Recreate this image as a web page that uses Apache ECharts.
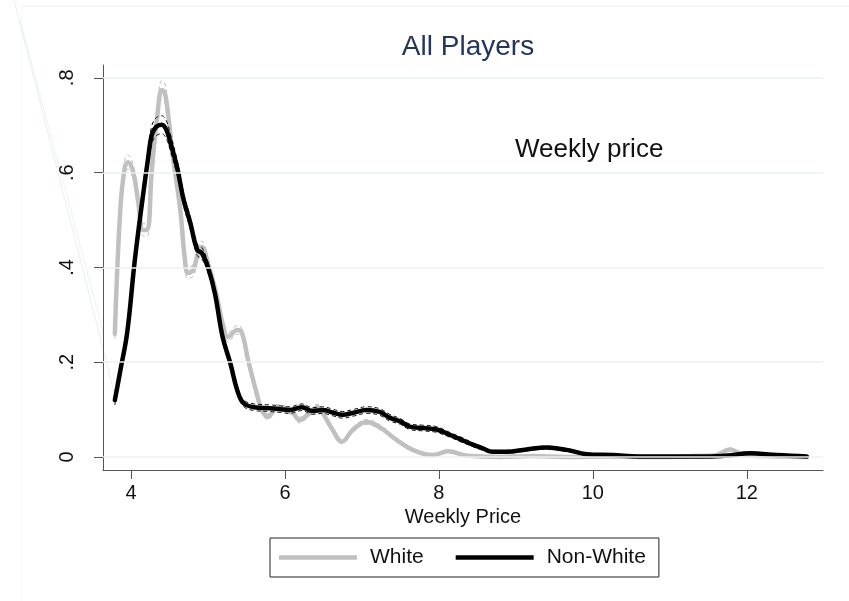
<!DOCTYPE html>
<html>
<head>
<meta charset="utf-8">
<script src="https://cdn.jsdelivr.net/npm/echarts@6/dist/echarts.min.js"></script>
<style>html,body{margin:0;padding:0;background:#fff}#c{width:849px;height:601px}</style>
</head>
<body>
<div id="c"></div>
<script>
// ---- data ----
const xTicks = [4, 6, 8, 10, 12];
const yTicks = [0, 0.2, 0.4, 0.6, 0.8];
const yTickLabels = ['0', '.2', '.4', '.6', '.8'];
const seriesNames = ['White', 'Non-White'];

const whiteX = [3.79,3.86,3.92,3.96,4.03,4.09,4.16,4.21,4.27,4.34,4.40,4.44,4.49,4.55,4.64,4.70,4.74,4.81,4.87,4.92,5.00,5.10,5.20,5.26,5.38,5.44,5.52,5.61,5.70,5.78,5.90,6.10,6.19,6.32,6.42,6.49,6.62,6.74,6.88,7.06,7.23,7.45,7.66,7.92,8.12,8.33,8.55,8.79,9.22,9.66,10.2,10.8,11.3,11.6,11.78,11.95,12.2,12.5,12.78];
const whiteY = [0.26,0.52,0.612,0.622,0.600,0.542,0.479,0.479,0.605,0.717,0.774,0.768,0.711,0.627,0.521,0.416,0.388,0.395,0.430,0.443,0.409,0.350,0.275,0.253,0.268,0.262,0.205,0.148,0.099,0.085,0.105,0.093,0.078,0.093,0.105,0.093,0.057,0.032,0.057,0.074,0.063,0.036,0.015,0.004,0.012,0.004,0.001,0.000,0.002,0.000,0.001,0.000,0.002,0.004,0.016,0.005,0.002,0.001,0.000];
const whiteHi = [0.270,0.534,0.627,0.637,0.615,0.556,0.492,0.492,0.621,0.736,0.794,0.788,0.730,0.644,0.536,0.429,0.400,0.407,0.442,0.455,0.420,0.360,0.284,0.262,0.277,0.271,0.213,0.155,0.105,0.091,0.111,0.099,0.084,0.099,0.111,0.099,0.062,0.036,0.062,0.079,0.068,0.040,0.018,0.006,0.014,0.006,0.002,0.001,0.003,0.001,0.002,0.001,0.003,0.006,0.019,0.007,0.003,0.002,0.001];
const whiteLo = [0.250,0.506,0.597,0.607,0.585,0.528,0.466,0.466,0.589,0.698,0.754,0.748,0.692,0.610,0.506,0.403,0.376,0.383,0.418,0.431,0.398,0.340,0.266,0.244,0.259,0.253,0.197,0.141,0.093,0.079,0.099,0.087,0.072,0.087,0.099,0.087,0.052,0.028,0.052,0.069,0.058,0.032,0.012,0.002,0.010,0.002,0.000,0.000,0.001,0.000,0.000,0.000,0.001,0.002,0.013,0.003,0.001,0.000,0.000];

const nonWhiteX = [3.79,3.87,3.95,4.05,4.16,4.22,4.27,4.33,4.40,4.46,4.51,4.60,4.68,4.77,4.86,4.92,5.00,5.09,5.19,5.29,5.38,5.46,5.60,5.80,5.94,6.06,6.22,6.36,6.49,6.62,6.75,6.88,7.06,7.23,7.36,7.50,7.62,7.80,7.97,8.14,8.30,8.44,8.57,8.70,8.88,9.14,9.40,9.66,9.92,10.26,10.6,11.0,11.48,11.75,12.04,12.39,12.78];
const nonWhiteY = [0.120,0.19,0.262,0.416,0.557,0.628,0.680,0.697,0.701,0.690,0.664,0.610,0.545,0.494,0.437,0.430,0.400,0.345,0.253,0.198,0.141,0.114,0.105,0.103,0.101,0.099,0.105,0.097,0.099,0.094,0.089,0.093,0.099,0.095,0.083,0.075,0.064,0.061,0.058,0.047,0.036,0.026,0.018,0.011,0.011,0.016,0.020,0.015,0.006,0.004,0.001,0.001,0.001,0.003,0.008,0.004,0.001];
const nonWhiteHi = [0.130,0.202,0.276,0.432,0.575,0.646,0.699,0.716,0.720,0.709,0.682,0.626,0.559,0.507,0.449,0.442,0.411,0.355,0.262,0.206,0.148,0.121,0.112,0.110,0.108,0.106,0.112,0.104,0.106,0.101,0.096,0.100,0.106,0.102,0.090,0.081,0.070,0.067,0.064,0.052,0.041,0.030,0.022,0.014,0.014,0.019,0.023,0.018,0.008,0.006,0.002,0.002,0.002,0.004,0.010,0.005,0.002];
const nonWhiteLo = [0.110,0.178,0.248,0.400,0.539,0.610,0.661,0.678,0.682,0.671,0.646,0.594,0.531,0.481,0.425,0.418,0.389,0.335,0.244,0.190,0.134,0.107,0.098,0.096,0.094,0.092,0.098,0.090,0.092,0.087,0.082,0.086,0.092,0.088,0.076,0.069,0.058,0.055,0.052,0.042,0.031,0.022,0.014,0.008,0.008,0.013,0.017,0.012,0.004,0.002,0.000,0.000,0.000,0.002,0.006,0.003,0.000];

// ---- chart ----
const FONT = '"Liberation Sans", Arial, Helvetica, sans-serif';
const pairs = (xs, ys) => xs.map((x, i) => [x, ys[i]]);
const chart = echarts.init(document.getElementById('c'), null, {renderer: 'canvas'});

function ciSeries(name, xs, ys, color) {
  return {
    name: name, type: 'line', data: pairs(xs, ys), symbol: 'none', smooth: 0.4,
    silent: true, animation: false,
    lineStyle: {color: color, width: 1, type: [4, 3]}
  };
}
function mainSeries(name, xs, ys, color) {
  return {
    name: name, type: 'line', data: pairs(xs, ys), symbol: 'none', smooth: 0.4,
    silent: true, animation: false,
    lineStyle: {color: color, width: 4.5, cap: 'round', join: 'round'},
    itemStyle: {color: color}
  };
}

const gridSeries = {
  name: 'grid', type: 'line', data: [], symbol: 'none', silent: true, z: 1,
  markLine: {
    silent: true, symbol: ['none', 'none'], animation: false,
    label: {show: false},
    lineStyle: {color: '#eaf1f3', width: 1.5, type: 'solid'},
    data: yTicks.map(v => ({yAxis: v}))
  }
};

chart.setOption({
  animation: false,
  backgroundColor: '#ffffff',
  title: {
    text: 'All Players', left: 463, top: 28, textAlign: 'center',
    textStyle: {fontFamily: FONT, fontSize: 28, fontWeight: 'normal', color: '#22355f'}
  },
  grid: {left: 103, right: 26, top: 65, bottom: 131, containLabel: false},
  xAxis: {
    type: 'value', min: 3.636, max: 12.99,
    name: 'Weekly Price', nameLocation: 'middle', nameGap: 33,
    nameTextStyle: {fontFamily: FONT, fontSize: 20, color: '#111'},
    axisLine: {show: true, onZero: false, lineStyle: {color: '#555', width: 1}},
    axisTick: {show: true, customValues: xTicks, length: 9, lineStyle: {color: '#555'}},
    axisLabel: {customValues: xTicks, fontFamily: FONT, fontSize: 20, color: '#111', margin: 13},
    splitLine: {show: false}
  },
  yAxis: {
    type: 'value', min: -0.0274, max: 0.827,
    axisLine: {show: true, onZero: false, lineStyle: {color: '#555', width: 1}},
    axisTick: {show: true, customValues: yTicks, length: 9, lineStyle: {color: '#555'}},
    axisLabel: {
      customValues: yTicks, rotate: 90, margin: 26,
      fontFamily: FONT, fontSize: 20, color: '#111',
      formatter: v => { const i = yTicks.findIndex(t => Math.abs(t - v) < 1e-6); return i >= 0 ? yTickLabels[i] : ''; }
    },
    splitLine: {show: false}
  },
  legend: {
    data: seriesNames, left: 270, top: 538,
    orient: 'horizontal', icon: 'rect', itemWidth: 78, itemHeight: 4.5,
    itemGap: 32, padding: [9, 13, 9, 9],
    borderColor: '#222', borderWidth: 1, backgroundColor: '#fff',
    textStyle: {fontFamily: FONT, fontSize: 21, color: '#111', padding: [0, 0, 0, 8]},
    selectedMode: false
  },
  graphic: [
    {type: 'line', silent: true, z: -10, shape: {x1: 22, y1: 6, x2: 849, y2: 6}, style: {stroke: '#eff4f4', lineWidth: 1}},
    {type: 'line', silent: true, z: -10, shape: {x1: 22, y1: 6, x2: 22, y2: 601}, style: {stroke: '#f3f6f6', lineWidth: 1}},
    {type: 'line', silent: true, z: -10, shape: {x1: 14, y1: 0, x2: 116, y2: 400}, style: {stroke: '#e8efef', lineWidth: 1}},
    {type: 'line', silent: true, z: -10, shape: {x1: 20, y1: 20, x2: 104, y2: 335}, style: {stroke: '#ecf2f2', lineWidth: 1}},
    {type: 'text', silent: true, left: 515, top: 137, style: {text: 'Weekly price', font: '26px ' + FONT, fill: '#111'}}
  ],
  series: [
    gridSeries,
    ciSeries('White CI lo', whiteX, whiteLo, '#b8b8b8'),
    ciSeries('White CI hi', whiteX, whiteHi, '#b8b8b8'),
    mainSeries('White', whiteX, whiteY, '#c0c0c0'),
    ciSeries('Non-White CI lo', nonWhiteX, nonWhiteLo, '#111'),
    ciSeries('Non-White CI hi', nonWhiteX, nonWhiteHi, '#111'),
    mainSeries('Non-White', nonWhiteX, nonWhiteY, '#000')
  ]
});
</script>
</body>
</html>
